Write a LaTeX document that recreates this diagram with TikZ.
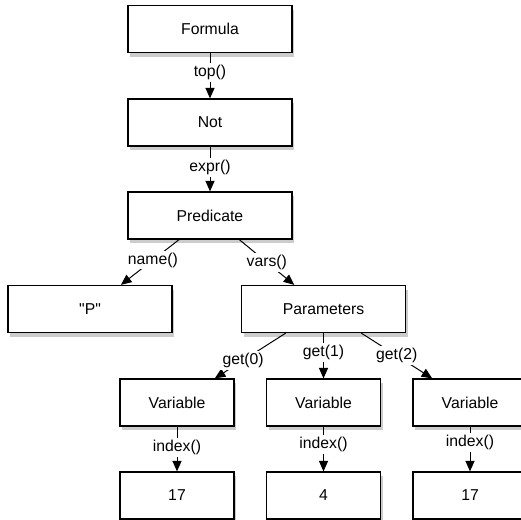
\documentclass[tikz,border=0pt]{standalone}
\usepackage{fontspec}
\setmainfont{Liberation Sans}
\usetikzlibrary{arrows.meta,positioning,shadows}

\tikzset{
  obj/.style={draw, line width=0.9pt, fill=white, minimum width=4.1cm, minimum height=1.175cm,
    drop shadow={opacity=0.4, shadow xshift=1.5pt, shadow yshift=-3pt}},
  smallobj/.style={obj, minimum width=2.85cm},
  call/.style={fill=white, inner sep=1.5pt},
  link/.style={-{Triangle[length=7.5pt,width=6.5pt]}, line width=0.7pt},
}

\begin{document}
\begin{tikzpicture}[font=\fontsize{11.2}{13}\selectfont]
  \useasboundingbox (0,0) rectangle (13.025,13);

  % Formula -> Not -> Predicate
  \node[obj] (formula) at (5.25,12.275) {Formula};
  \node[obj] (not) at (5.25,9.9375) {Not};
  \node[obj] (pred) at (5.25,7.6125) {Predicate};

  % Name and parameters
  \node[obj] (pname) at (2.25,5.275) {\textquotedbl P\textquotedbl};
  \node[obj] (params) at (8.0875,5.275) {Parameters};

  % Variables
  \node[smallobj] (var0) at (4.425,2.9375) {Variable};
  \node[smallobj] (var1) at (8.0875,2.9375) {Variable};
  \node[smallobj] (var2) at (11.75,2.9375) {Variable};

  % Indices
  \node[smallobj] (idx0) at (4.425,0.6125) {17};
  \node[smallobj] (idx1) at (8.0875,0.6125) {4};
  \node[smallobj] (idx2) at (11.75,0.6125) {17};

  % Calls
  \draw[link] (formula) -- node[call, pos=0.42] {top()} (not);
  \draw[link] (not) -- node[call, pos=0.47] {expr()} (pred);
  \draw[link] (pred) -- node[call, pos=0.45] {name()} (pname);
  \draw[link] (pred) -- node[call] {vars()} (params);
  \draw[link] (params) -- node[call, pos=0.6] {get(0)} (var0);
  \draw[link] (params) -- node[call, pos=0.42] {get(1)} (var1);
  \draw[link] (params) -- node[call] {get(2)} (var2);
  \draw[link] (var0) -- node[call, pos=0.47] {index()} (idx0);
  \draw[link] (var1) -- node[call, pos=0.4] {index()} (idx1);
  \draw[link] (var2) -- node[call, pos=0.35] {index()} (idx2);
\end{tikzpicture}
\end{document}
